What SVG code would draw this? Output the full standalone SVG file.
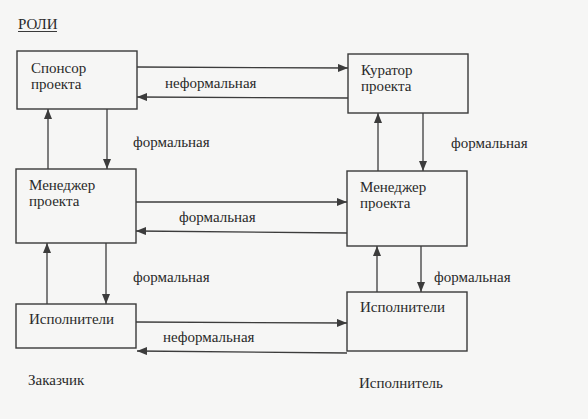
<svg xmlns="http://www.w3.org/2000/svg" width="588" height="419" viewBox="0 0 588 419">
<style>
.bg{fill:#f6f6f5}
.box{fill:none;stroke:#3a3a3a;stroke-width:1.4}
.t{font-family:"Liberation Serif","Times New Roman",serif;font-size:15px;fill:#2a2a2a}
.c{stroke:#3c3c3c;stroke-width:1.3;fill:none;marker-end:url(#ah)}
</style>
<defs>
<marker id="ah" viewBox="0 0 10 8" refX="10" refY="4" markerWidth="10" markerHeight="8" markerUnits="userSpaceOnUse" orient="auto">
<path d="M0,0 L10,4 L0,8 Z" fill="#3c3c3c"/>
</marker>
</defs>
<rect class="bg" x="0" y="0" width="588" height="419"/>
<text class="t" x="18" y="29">РОЛИ</text>
<line x1="18" y1="31.5" x2="57" y2="31.5" stroke="#3a3a3a" stroke-width="1"/>

<g id="sponsor"><rect class="box" x="17" y="51" width="120" height="58"/><text class="t" x="31" y="73">Спонсор</text><text class="t" x="31" y="89">проекта</text></g>
<g id="curator"><rect class="box" x="348" y="54" width="120" height="59"/><text class="t" x="361" y="75">Куратор</text><text class="t" x="361" y="91">проекта</text></g>
<g id="manager-left"><rect class="box" x="16" y="169" width="120" height="74"/><text class="t" x="29" y="190">Менеджер</text><text class="t" x="29" y="206">проекта</text></g>
<g id="manager-right"><rect class="box" x="347" y="171" width="120" height="75"/><text class="t" x="360" y="192">Менеджер</text><text class="t" x="360" y="208">проекта</text></g>
<g id="exec-left"><rect class="box" x="16" y="304" width="120" height="44"/><text class="t" x="29" y="324">Исполнители</text></g>
<g id="exec-right"><rect class="box" x="347" y="292" width="120" height="59"/><text class="t" x="360" y="312">Исполнители</text></g>

<g id="connectors">
<line class="c" x1="137" y1="67" x2="348" y2="68"/>
<line class="c" x1="348" y1="98" x2="137" y2="97"/>
<line class="c" x1="48" y1="169" x2="48" y2="109"/>
<line class="c" x1="107" y1="109" x2="107" y2="169"/>
<line class="c" x1="378" y1="171" x2="378" y2="113"/>
<line class="c" x1="423" y1="113" x2="423" y2="171"/>
<line class="c" x1="136" y1="202" x2="347" y2="202"/>
<line class="c" x1="347" y1="233" x2="136" y2="231"/>
<line class="c" x1="47" y1="304" x2="47" y2="243"/>
<line class="c" x1="106" y1="243" x2="106" y2="304"/>
<line class="c" x1="377" y1="292" x2="377" y2="246"/>
<line class="c" x1="421" y1="246" x2="421" y2="292"/>
<line class="c" x1="136" y1="322" x2="347" y2="323"/>
<line class="c" x1="347" y1="353" x2="137" y2="351"/>
</g>

<text class="t" x="165" y="88">неформальная</text>
<text class="t" x="133" y="147">формальная</text>
<text class="t" x="451" y="148">формальная</text>
<text class="t" x="179" y="222">формальная</text>
<text class="t" x="133" y="282">формальная</text>
<text class="t" x="434" y="282">формальная</text>
<text class="t" x="163" y="342">неформальная</text>
<text class="t" x="28" y="385">Заказчик</text>
<text class="t" x="359" y="388">Исполнитель</text>
</svg>
